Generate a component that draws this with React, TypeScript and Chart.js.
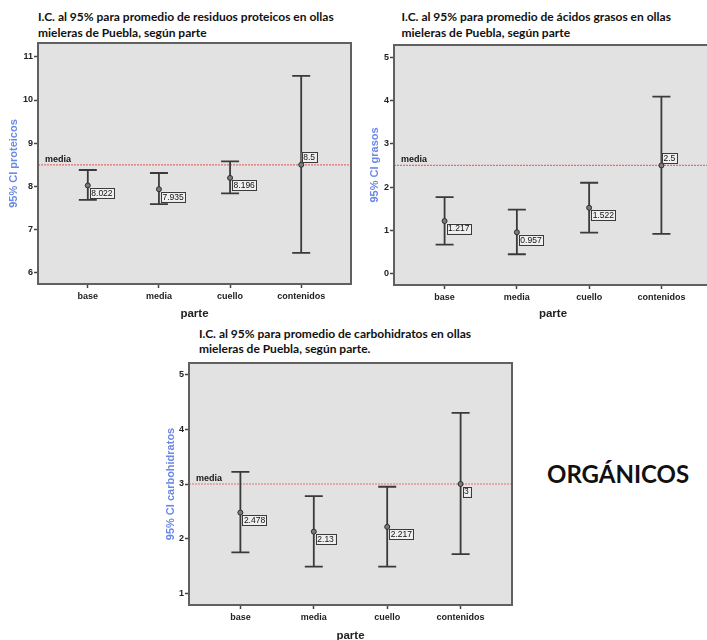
import React, { useEffect, useRef } from "react";
import { Chart, registerables } from "chart.js";

Chart.register(...registerables);

// ---------- data ----------
const categories = ["base", "media", "cuello", "contenidos"];

const proteicosMean = [8.022, 7.935, 8.196, 8.5];
const proteicosLower = [7.69, 7.59, 7.84, 6.46];
const proteicosUpper = [8.38, 8.31, 8.58, 10.56];
const proteicosRef = 8.5;
const proteicosTicks = [6, 7, 8, 9, 10, 11];
const proteicosLabelAbove = [false, false, false, true];

const grasosMean = [1.217, 0.957, 1.522, 2.5];
const grasosLower = [0.67, 0.45, 0.95, 0.92];
const grasosUpper = [1.77, 1.48, 2.1, 4.09];
const grasosRef = 2.5;
const grasosTicks = [0, 1, 2, 3, 4, 5];
const grasosLabelAbove = [false, false, false, true];

const carboMean = [2.478, 2.13, 2.217, 3];
const carboLower = [1.75, 1.49, 1.49, 1.72];
const carboUpper = [3.22, 2.78, 2.95, 4.3];
const carboRef = 3;
const carboTicks = [1, 2, 3, 4, 5];
const carboLabelAbove = [false, false, false, false];

const xTickValues = [0, 1, 2, 3];

// ---------- plugin ----------
const ciPlugin = {
  id: "ci",
  beforeDatasetsDraw(chart: any, _args: any, opts: any) {
    const { ctx, chartArea: a } = chart;
    const x = chart.scales.x;
    const y = chart.scales.y;
    ctx.save();
    ctx.fillStyle = "#e2e2e2";
    ctx.fillRect(a.left, a.top, a.right - a.left, a.bottom - a.top);

    // reference (mean) line
    const ry = y.getPixelForValue(opts.ref);
    ctx.strokeStyle = "#e07070";
    ctx.lineWidth = 1.2;
    ctx.setLineDash([2, 1]);
    ctx.beginPath();
    ctx.moveTo(a.left, ry);
    ctx.lineTo(a.right, ry);
    ctx.stroke();
    ctx.setLineDash([]);
    ctx.font = "bold 9px Arial, 'Liberation Sans', sans-serif";
    ctx.fillStyle = "#151515";
    ctx.textBaseline = "bottom";
    ctx.textAlign = "left";
    ctx.fillText("media", a.left + 7, ry - 1);

    // error bars
    ctx.strokeStyle = "#3a3a3a";
    ctx.lineWidth = 1.8;
    const lower: number[] = opts.lower;
    const upper: number[] = opts.upper;
    for (let i = 0; i < lower.length; i++) {
      const xp = x.getPixelForValue(i);
      const yl = y.getPixelForValue(lower[i]);
      const yh = y.getPixelForValue(upper[i]);
      ctx.beginPath();
      ctx.moveTo(xp, yl);
      ctx.lineTo(xp, yh);
      ctx.moveTo(xp - 9, yl);
      ctx.lineTo(xp + 9, yl);
      ctx.moveTo(xp - 9, yh);
      ctx.lineTo(xp + 9, yh);
      ctx.stroke();
    }
    ctx.restore();
  },
  afterDatasetsDraw(chart: any, _args: any, opts: any) {
    const { ctx } = chart;
    const x = chart.scales.x;
    const y = chart.scales.y;
    const mean: number[] = opts.mean;
    const above: boolean[] = opts.above;
    ctx.save();
    ctx.font = "8.5px Arial, 'Liberation Sans', sans-serif";
    ctx.textBaseline = "middle";
    ctx.textAlign = "left";
    for (let i = 0; i < mean.length; i++) {
      const xp = x.getPixelForValue(i);
      const yp = y.getPixelForValue(mean[i]);
      const txt = String(mean[i]);
      const w = ctx.measureText(txt).width + 3;
      const h = 10;
      const bx = above[i] ? xp + 0.5 : xp + 2;
      const by = above[i] ? yp - 2.5 - h : yp + 2.5;
      ctx.fillStyle = "#f0f0f0";
      ctx.fillRect(bx, by, w, h);
      ctx.strokeStyle = "#3a3a3a";
      ctx.lineWidth = 1;
      ctx.strokeRect(Math.round(bx) + 0.5, Math.round(by) + 0.5, Math.round(w), h);
      ctx.fillStyle = "#111";
      ctx.fillText(txt, bx + 1.5, by + h / 2 + 0.5);
    }
    ctx.restore();
  },
  afterDraw(chart: any) {
    const { ctx, chartArea: a } = chart;
    ctx.save();
    ctx.strokeStyle = "#606060";
    ctx.lineWidth = 2;
    ctx.strokeRect(a.left, a.top, a.right - a.left, a.bottom - a.top);
    ctx.restore();
  },
};

type Props = {
  mean: number[];
  lower: number[];
  upper: number[];
  refValue: number;
  ticks: number[];
  labelAbove: boolean[];
  yMin: number;
  yMax: number;
  yTitle: string;
  left: number;
  top: number;
  width: number;
  height: number;
  yAxisWidth: number;
  xAxisHeight: number;
};

function CIChart(p: Props) {
  const ref = useRef<HTMLCanvasElement | null>(null);
  useEffect(() => {
    if (!ref.current) return;
    const tickFont = { family: "Arial, 'Liberation Sans', sans-serif", size: 9, weight: "bold" as const };
    const chart = new Chart(ref.current, {
      type: "scatter",
      data: {
        datasets: [
          {
            data: p.mean.map((m, i) => ({ x: i, y: m })),
            pointRadius: 2.5,
            pointBackgroundColor: "#7a7a7a",
            pointBorderColor: "#2e2e2e",
            pointBorderWidth: 1,
            showLine: false,
          },
        ],
      },
      options: {
        animation: false,
        responsive: false,
        maintainAspectRatio: false,
        devicePixelRatio: 1,
        events: [],
        layout: { padding: { top: 10, right: 4, bottom: 0, left: 0 } },
        plugins: {
          legend: { display: false },
          tooltip: { enabled: false },
          ci: {
            mean: p.mean,
            lower: p.lower,
            upper: p.upper,
            ref: p.refValue,
            above: p.labelAbove,
          },
        } as any,
        scales: {
          x: {
            type: "linear",
            position: "bottom",
            min: -0.7,
            max: 3.7,
            afterBuildTicks: (axis: any) => {
              axis.ticks = xTickValues.map((v) => ({ value: v }));
            },
            afterFit: (axis: any) => {
              axis.height = p.xAxisHeight;
            },
            grid: {
              drawOnChartArea: false,
              drawTicks: true,
              tickLength: 4,
              tickColor: "#444",
              tickWidth: 1.5,
            },
            border: { display: false },
            ticks: {
              font: tickFont,
              color: "#222",
              padding: 3,
              autoSkip: false,
              maxRotation: 0,
              callback: (v: any) => categories[Number(v)] ?? "",
            },
            title: {
              display: true,
              text: "parte",
              color: "#222",
              padding: 0,
              font: { family: "Arial, 'Liberation Sans', sans-serif", size: 11.5, weight: "bold" },
            },
          },
          y: {
            type: "linear",
            min: p.yMin,
            max: p.yMax,
            afterBuildTicks: (axis: any) => {
              axis.ticks = p.ticks.map((v) => ({ value: v }));
            },
            afterFit: (axis: any) => {
              axis.width = p.yAxisWidth;
            },
            grid: {
              drawOnChartArea: false,
              drawTicks: true,
              tickLength: 4,
              tickColor: "#444",
              tickWidth: 1.5,
            },
            border: { display: false },
            ticks: {
              font: tickFont,
              color: "#222",
              padding: 1,
              callback: (v: any) => String(v),
            },
            title: {
              display: true,
              text: p.yTitle,
              color: "#6a88e6",
              padding: 0,
              font: { family: "Arial, 'Liberation Sans', sans-serif", size: 11, weight: "bold" },
            },
          },
        },
      },
      plugins: [ciPlugin as any],
    });
    return () => chart.destroy();
  }, []);
  return (
    <canvas
      ref={ref}
      width={p.width}
      height={p.height}
      style={{ position: "absolute", left: p.left, top: p.top, width: p.width, height: p.height }}
    />
  );
}

const titleStyle: React.CSSProperties = {
  position: "absolute",
  fontFamily: "Lato, 'Open Sans', sans-serif",
  fontWeight: 700,
  fontSize: 12,
  lineHeight: "15.6px",
  color: "#111",
  whiteSpace: "nowrap",
};

export default function App() {
  return (
    <div
      style={{
        position: "fixed",
        left: 0,
        top: 0,
        width: 707,
        height: 640,
        overflow: "hidden",
        background: "#fff",
      }}
    >
      <div style={{ ...titleStyle, left: 38, top: 9 }}>
        I.C. al 95% para promedio de residuos proteicos en ollas
        <br />
        mieleras de Puebla, según parte
      </div>
      <div style={{ ...titleStyle, left: 401.5, top: 9 }}>
        I.C. al 95% para promedio de ácidos grasos en ollas
        <br />
        mieleras de Puebla, según parte
      </div>
      <div style={{ ...titleStyle, left: 199, top: 325.5 }}>
        I.C. al 95% para promedio de carbohidratos en ollas
        <br />
        mieleras de Puebla, según parte.
      </div>
      <div
        style={{
          position: "absolute",
          left: 547,
          top: 462,
          fontFamily: "Lato, 'Open Sans', sans-serif",
          fontWeight: 700,
          fontSize: 24,
          lineHeight: "24px",
          color: "#111",
          whiteSpace: "nowrap",
        }}
      >
        ORGÁNICOS
      </div>

      <CIChart
        mean={proteicosMean}
        lower={proteicosLower}
        upper={proteicosUpper}
        refValue={proteicosRef}
        ticks={proteicosTicks}
        labelAbove={proteicosLabelAbove}
        yMin={5.74}
        yMax={11.32}
        yTitle="95% CI proteicos"
        left={7}
        top={33}
        width={349}
        height={288}
        yAxisWidth={31}
        xAxisHeight={37}
      />
      <CIChart
        mean={grasosMean}
        lower={grasosLower}
        upper={grasosUpper}
        refValue={grasosRef}
        ticks={grasosTicks}
        labelAbove={grasosLabelAbove}
        yMin={-0.26}
        yMax={5.28}
        yTitle="95% CI grasos"
        left={368}
        top={35}
        width={349}
        height={286}
        yAxisWidth={26}
        xAxisHeight={36}
      />
      <CIChart
        mean={carboMean}
        lower={carboLower}
        upper={carboUpper}
        refValue={carboRef}
        ticks={carboTicks}
        labelAbove={carboLabelAbove}
        yMin={0.79}
        yMax={5.21}
        yTitle="95% CI carbohidratos"
        left={164}
        top={353}
        width={353}
        height={290}
        yAxisWidth={25}
        xAxisHeight={38}
      />
    </div>
  );
}
